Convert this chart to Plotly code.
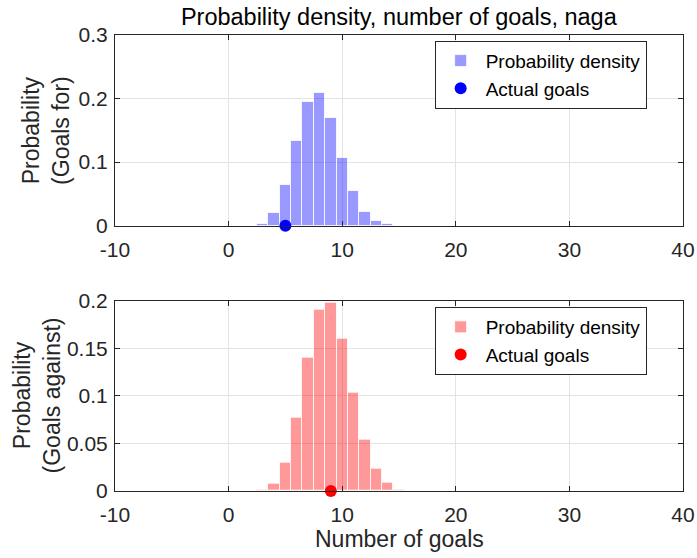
import plotly.graph_objects as go

# ---- data ----
goals_for_x = [3, 4, 5, 6, 7, 8, 9, 10, 11, 12, 13, 14]
prob_for = [0.003, 0.020, 0.064, 0.133, 0.194, 0.208, 0.169, 0.107, 0.055, 0.022, 0.008, 0.002]
goals_against_x = [3, 4, 5, 6, 7, 8, 9, 10, 11, 12, 13, 14, 15]
prob_against = [0.001, 0.0073, 0.0294, 0.0766, 0.1406, 0.191, 0.198, 0.160, 0.1035, 0.054, 0.0234, 0.0084, 0.0017]
actual_for = [5]
actual_against = [9]
zero = [0]

x_ticks = [-10, 0, 10, 20, 30, 40]
x_ticktext = ["-10", "0", "10", "20", "30", "40"]
y1_ticks = [0, 0.1, 0.2, 0.3]
y1_ticktext = ["0", "0.1", "0.2", "0.3"]
y2_ticks = [0, 0.05, 0.1, 0.15, 0.2]
y2_ticktext = ["0", "0.05", "0.1", "0.15", "0.2"]

FONT = "Liberation Sans, Arial, Helvetica, sans-serif"
DARK = "#262626"
GRID = "#e3e3e3"

fig = go.Figure()

fig.add_trace(go.Bar(
    x=goals_for_x, y=prob_for, width=1, name="Probability density",
    marker=dict(color="rgba(0,0,255,0.4)", line=dict(color="rgba(255,255,255,0.8)", width=1)),
    xaxis="x", yaxis="y", legend="legend"))
fig.add_trace(go.Scatter(
    x=actual_for, y=zero, mode="markers", name="Actual goals",
    marker=dict(color="#0000ff", size=12), cliponaxis=False,
    xaxis="x", yaxis="y", legend="legend"))

fig.add_trace(go.Bar(
    x=goals_against_x, y=prob_against, width=1, name="Probability density",
    marker=dict(color="rgba(255,0,0,0.4)", line=dict(color="rgba(255,255,255,0.8)", width=1)),
    xaxis="x2", yaxis="y2", legend="legend2"))
fig.add_trace(go.Scatter(
    x=actual_against, y=zero, mode="markers", name="Actual goals",
    marker=dict(color="#ff0000", size=12), cliponaxis=False,
    xaxis="x2", yaxis="y2", legend="legend2"))

axis_common = dict(
    showline=True, linecolor=DARK, linewidth=1, mirror="ticks",
    ticks="inside", ticklen=5, tickcolor=DARK,
    showgrid=True, gridcolor=GRID, gridwidth=1, zeroline=False,
    tickfont=dict(family=FONT, size=21, color=DARK),
    automargin=False,
)

fig.update_layout(
    width=697, height=558,
    margin=dict(l=114.5, r=14, t=35, b=67, autoexpand=False),
    paper_bgcolor="white", plot_bgcolor="white",
    font=dict(family=FONT, color=DARK),
    bargap=0,
    xaxis=dict(domain=[0, 1], range=[-10, 40], tickvals=x_ticks, ticktext=x_ticktext,
               anchor="y", ticklabelstandoff=5, **axis_common),
    yaxis=dict(domain=[0.5818, 1], range=[0, 0.3], tickvals=y1_ticks, ticktext=y1_ticktext,
               anchor="x", ticklabelstandoff=2, **axis_common),
    xaxis2=dict(domain=[0, 1], range=[-10, 40], tickvals=x_ticks, ticktext=x_ticktext,
                anchor="y2", ticklabelstandoff=5, **axis_common),
    yaxis2=dict(domain=[0, 0.4173], range=[0, 0.2], tickvals=y2_ticks, ticktext=y2_ticktext,
                anchor="x2", ticklabelstandoff=2, **axis_common),
    showlegend=True,
    legend=dict(x=0.936, y=0.9875, xanchor="right", yanchor="top",
                bgcolor="white", bordercolor=DARK, borderwidth=1,
                font=dict(family=FONT, size=19, color="#000000"),
                itemwidth=40, tracegroupgap=0),
    legend2=dict(x=0.936, y=0.4035, xanchor="right", yanchor="top",
                 bgcolor="white", bordercolor=DARK, borderwidth=1,
                 font=dict(family=FONT, size=19, color="#000000"),
                 itemwidth=40, tracegroupgap=0),
    title=dict(text="Probability density, number of goals, naga",
               x=0.5722, xanchor="center", y=1 - 17 / 558, yanchor="middle",
               font=dict(family=FONT, size=23.5, color="#000000")),
)

fig.add_annotation(text="Probability<br>(Goals for)", xref="paper", yref="paper",
                   x=(46 - 114.5) / 568.5, y=0.5818 + (1 - 0.5818) / 2,
                   xanchor="center", yanchor="middle", textangle=-90, showarrow=False,
                   font=dict(family=FONT, size=23, color=DARK))
fig.add_annotation(text="Probability<br>(Goals against)", xref="paper", yref="paper",
                   x=(36 - 114.5) / 568.5, y=0.4173 / 2,
                   xanchor="center", yanchor="middle", textangle=-90, showarrow=False,
                   font=dict(family=FONT, size=23, color=DARK))
fig.add_annotation(text="Number of goals", xref="paper", yref="paper",
                   x=0.5, y=(491 - 539) / 456, xanchor="center", yanchor="middle",
                   showarrow=False, font=dict(family=FONT, size=23, color=DARK))

fig.write_html("out.html", config={"displayModeBar": False},
               post_script="document.body.style.margin='0';")
